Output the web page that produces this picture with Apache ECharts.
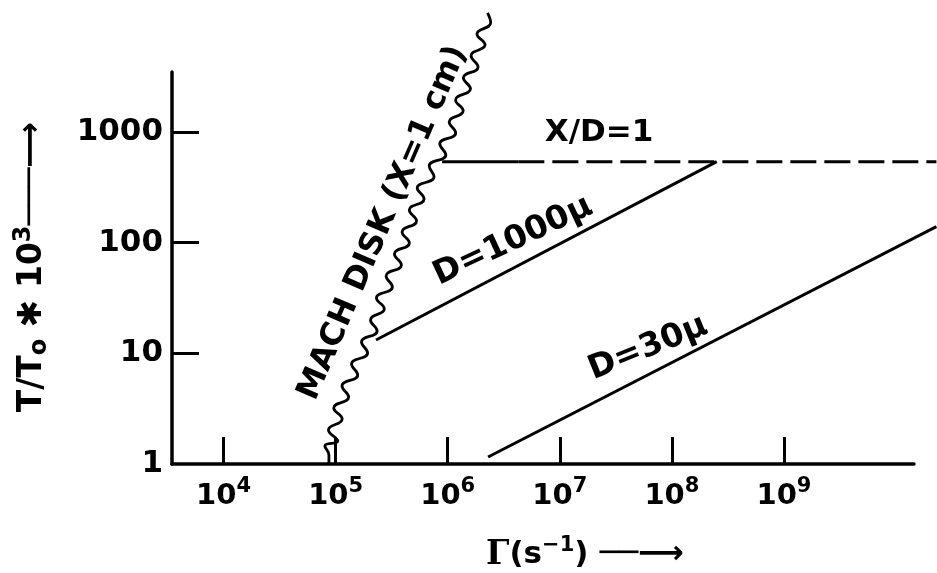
<!DOCTYPE html>
<html><head><meta charset="utf-8">
<script src="https://cdn.jsdelivr.net/npm/echarts@6/dist/echarts.min.js"></script>
<style>html,body{margin:0;padding:0;background:#fff}#c{width:937px;height:573px}</style>
</head><body><div id="c"></div>
<script>
// ---- data (log10 values) ----
const xTickExponents = [4, 5, 6, 7, 8, 9];
const yTickExponents = [0, 1, 2, 3];
const yTickLabels = ['1', '10', '100', '1000'];

// Mach disk (X = 1 cm): wavy hand-drawn curve, log10 Γ and log10 (T/T0*10^3)
const machLogGamma = [4.940, 4.940, 4.904, 5.019, 4.936, 5.058, 4.983, 5.116, 5.057, 5.197, 5.142,
  5.285, 5.231, 5.370, 5.311, 5.434, 5.364, 5.506, 5.450, 5.587, 5.524, 5.658, 5.593, 5.722, 5.657,
  5.789, 5.728, 5.878, 5.835, 5.983, 5.929, 6.071, 6.013, 6.138, 6.070, 6.203, 6.139, 6.271, 6.208,
  6.333, 6.261, 6.383, 6.355];
const machLogT = [0.000, 0.080, 0.163, 0.208, 0.307, 0.407, 0.506, 0.605, 0.705, 0.804, 0.903,
  1.003, 1.102, 1.201, 1.301, 1.400, 1.500, 1.599, 1.698, 1.798, 1.897, 1.996, 2.096, 2.195, 2.294,
  2.394, 2.493, 2.593, 2.692, 2.791, 2.891, 2.990, 3.089, 3.189, 3.288, 3.388, 3.487, 3.586, 3.686,
  3.785, 3.884, 3.984, 4.074];

const d1000LogGamma = [5.36, 8.40];
const d1000LogT = [1.12, 2.73];
const d30LogGamma = [6.36, 10.36];
const d30LogT = [0.063, 2.144];
const xdSolidLogGamma = [5.95, 6.63];
const xdDashLogGamma = [6.63, 10.36];
const xdLogT = [2.73, 2.73];

const zip = (a, b) => a.map((v, i) => [v, b[i]]);
const FONT = 'DejaVu Sans';
const black = '#000';
const lineSeries = (name, data, extra) => Object.assign({
  name, type: 'line', data, showSymbol: false, symbol: 'none', clip: false,
  lineStyle: { color: black, width: 3 }, silent: true
}, extra || {});
const deg = d => d * Math.PI / 180;

// visible axes span 172..914 px; a twin (hidden) axis pair with the same scale
// runs to the right edge of the picture so lines may continue past the axis end.
const X_MIN = 3.54, X_MAX = 10.16;
const PLOT_W = 937 - 172 - 23;
const X_MAX_FULL = X_MIN + (X_MAX - X_MIN) * (937 - 172) / PLOT_W;

const chart = echarts.init(document.getElementById('c'));
chart.setOption({
  animation: false,
  backgroundColor: '#fff',
  grid: [
    { left: 172, right: 23, top: 72, bottom: 109 },
    { left: 172, right: 0, top: 72, bottom: 109 }
  ],
  xAxis: [{
    type: 'value', min: X_MIN, max: X_MAX, gridIndex: 0,
    axisLine: { lineStyle: { color: black, width: 3.5 } },
    axisTick: { show: true, inside: true, length: 27, lineStyle: { color: black, width: 3 },
      customValues: xTickExponents },
    axisLabel: {
      customValues: xTickExponents, margin: 12,
      formatter: v => '{b|10}{s|' + v + '}',
      rich: {
        b: { fontFamily: FONT, fontWeight: 'bold', fontSize: 29, color: black, lineHeight: 40 },
        s: { fontFamily: FONT, fontWeight: 'bold', fontSize: 21, color: black, verticalAlign: 'top', lineHeight: 24 }
      }
    },
    splitLine: { show: false }
  }, {
    type: 'value', min: X_MIN, max: X_MAX_FULL, gridIndex: 1, show: false
  }],
  yAxis: [{
    type: 'value', min: 0, max: 3.54, gridIndex: 0,
    axisLine: { show: true, lineStyle: { color: black, width: 3.5 } },
    axisTick: { show: true, inside: true, length: 27, lineStyle: { color: black, width: 3 },
      customValues: yTickExponents.slice(1) },
    axisLabel: {
      customValues: yTickExponents, margin: 9,
      formatter: v => yTickLabels[yTickExponents.indexOf(Math.round(v))],
      fontFamily: FONT, fontWeight: 'bold', fontSize: 31, color: black
    },
    splitLine: { show: false }
  }, {
    type: 'value', min: 0, max: 3.54, gridIndex: 1, show: false
  }],
  series: [
    lineSeries('MACH DISK (X=1 cm)', zip(machLogGamma, machLogT), { smooth: 0.5, lineStyle: { color: black, width: 2.8 } }),
    lineSeries('D=1000μ', zip(d1000LogGamma, d1000LogT)),
    lineSeries('D=30μ', zip(d30LogGamma, d30LogT), { xAxisIndex: 1, yAxisIndex: 1 }),
    lineSeries('X/D=1 solid', zip(xdSolidLogGamma, xdLogT)),
    lineSeries('X/D=1', zip(xdDashLogGamma, xdLogT), { xAxisIndex: 1, yAxisIndex: 1, lineStyle: { color: black, width: 3, type: [26, 8] } })
  ],
  graphic: [
    { type: 'text', x: 599, y: 133, style: { text: 'X/D=1', font: 'bold 31px "DejaVu Sans"', fill: black, align: 'center', verticalAlign: 'middle' } },
    { type: 'text', x: 513, y: 241, rotation: deg(25), style: { text: 'D=1000μ', font: 'bold 33px "DejaVu Sans"', fill: black, align: 'center', verticalAlign: 'middle' } },
    { type: 'text', x: 648, y: 348, rotation: deg(22), style: { text: 'D=30μ', font: 'bold 33px "DejaVu Sans"', fill: black, align: 'center', verticalAlign: 'middle' } },
    { type: 'text', x: 383, y: 223, rotation: deg(66.7), style: { text: 'MACH DISK (X=1 cm)', font: 'bold 32px "DejaVu Sans"', fill: black, align: 'center', verticalAlign: 'middle' } },
    { type: 'text', x: 32, y: 267, rotation: deg(90), style: {
        text: '{n|T/T}{sub|o}{n| ✱ 10}{sup|3}{ar|───⟶}', align: 'center', verticalAlign: 'middle',
        rich: {
          n: { fontFamily: FONT, fontWeight: 'bold', fontSize: 33, fill: black, lineHeight: 40 },
          sub: { fontFamily: FONT, fontWeight: 'bold', fontSize: 24, fill: black, verticalAlign: 'bottom', lineHeight: 30 },
          sup: { fontFamily: FONT, fontWeight: 'bold', fontSize: 24, fill: black, verticalAlign: 'top', lineHeight: 24 },
          ar: { fontFamily: FONT, fontWeight: 'bold', fontSize: 32, fill: black, lineHeight: 40 }
        } } },
    { type: 'text', x: 486, y: 555, style: {
        text: '{g|Γ}{n|(s}{sup|−1}{n|)}{ar| ──⟶}', align: 'left', verticalAlign: 'middle',
        rich: {
          g: { fontFamily: 'DejaVu Serif', fontWeight: 'bold', fontSize: 33, fill: black, lineHeight: 40 },
          n: { fontFamily: FONT, fontWeight: 'bold', fontSize: 31, fill: black, lineHeight: 40 },
          sup: { fontFamily: FONT, fontWeight: 'bold', fontSize: 21, fill: black, verticalAlign: 'top', lineHeight: 24 },
          ar: { fontFamily: FONT, fontWeight: 'bold', fontSize: 32, fill: black, lineHeight: 40 }
        } } }
  ]
});
</script></body></html>
